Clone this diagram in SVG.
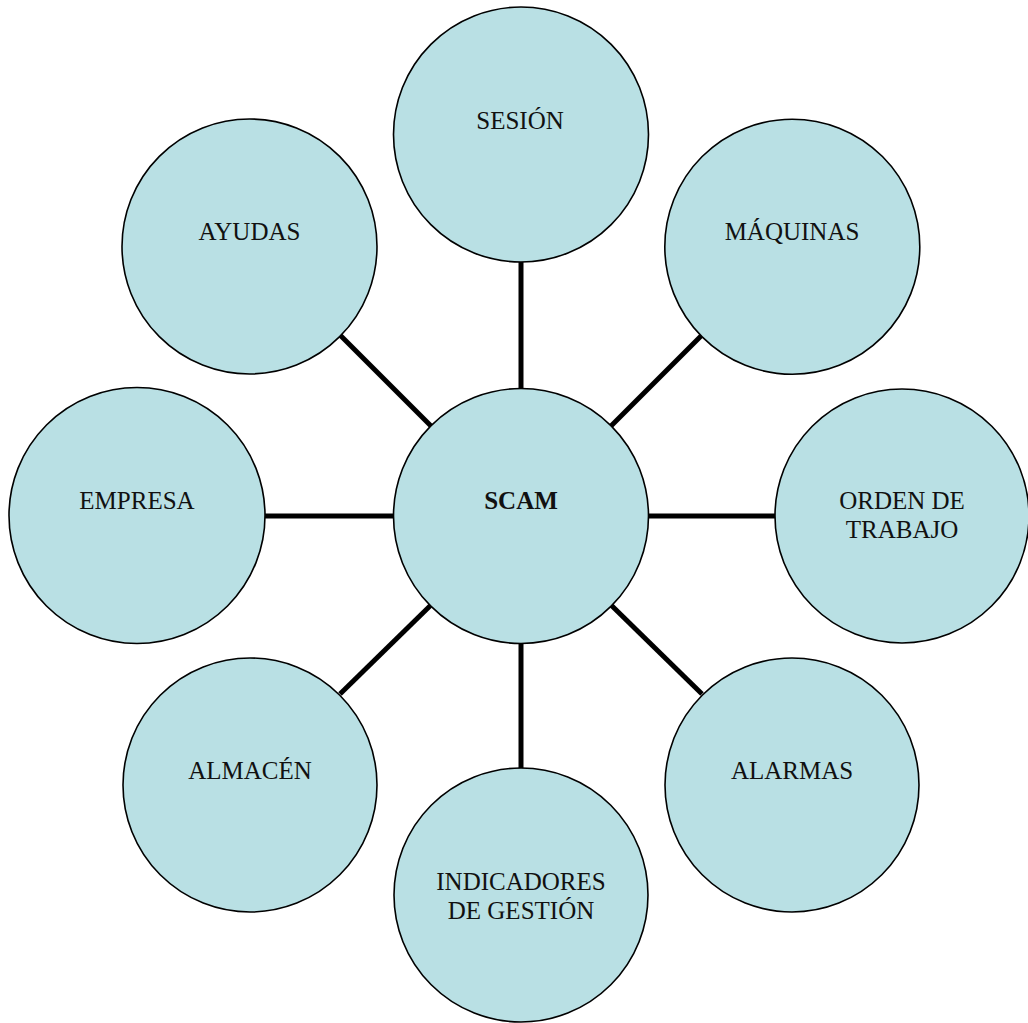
<svg xmlns="http://www.w3.org/2000/svg" width="1028" height="1023" viewBox="0 0 1028 1023">
<style>
.node circle{fill:#B9E0E4;stroke:#000;stroke-width:1.6}
.node text{font-family:"Liberation Serif","Times New Roman",serif;font-size:25px;fill:#111;text-anchor:middle}
.conn line{stroke:#000;stroke-width:5}
</style>
<rect width="1028" height="1023" fill="#fff"/>
<g id="connectors" class="conn">
<line x1="521" y1="262" x2="521" y2="389"/>
<line x1="265" y1="516" x2="393" y2="516"/>
<line x1="649" y1="516" x2="776" y2="516"/>
<line x1="521" y1="643" x2="521" y2="769"/>
<line x1="340" y1="335" x2="431" y2="426"/>
<line x1="702" y1="335" x2="611" y2="426"/>
<line x1="340" y1="694" x2="431" y2="605"/>
<line x1="702" y1="694" x2="611" y2="605"/>
</g>
<g id="node-sesion" class="node"><circle cx="521" cy="134.5" r="127.5"/><text x="520" y="129">SESIÓN</text></g>
<g id="node-ayudas" class="node"><circle cx="249.5" cy="246.5" r="127.5"/><text x="249.5" y="239.5">AYUDAS</text></g>
<g id="node-maquinas" class="node"><circle cx="792.3" cy="246.7" r="127.5"/><text x="792" y="239.5">MÁQUINAS</text></g>
<g id="node-empresa" class="node"><circle cx="137" cy="515.5" r="128"/><text x="137" y="509">EMPRESA</text></g>
<g id="node-scam" class="node"><circle cx="521" cy="516" r="127.5"/><text x="521" y="509" font-weight="bold">SCAM</text></g>
<g id="node-orden" class="node"><circle cx="902" cy="516" r="127"/><text x="902" y="509">ORDEN DE</text><text x="902" y="538">TRABAJO</text></g>
<g id="node-almacen" class="node"><circle cx="250" cy="785" r="127"/><text x="250" y="778.5">ALMACÉN</text></g>
<g id="node-alarmas" class="node"><circle cx="792" cy="785" r="127"/><text x="792" y="778.5">ALARMAS</text></g>
<g id="node-indicadores" class="node"><circle cx="521" cy="895" r="127"/><text x="521" y="889.5">INDICADORES</text><text x="521" y="918.5">DE GESTIÓN</text></g>
</svg>
